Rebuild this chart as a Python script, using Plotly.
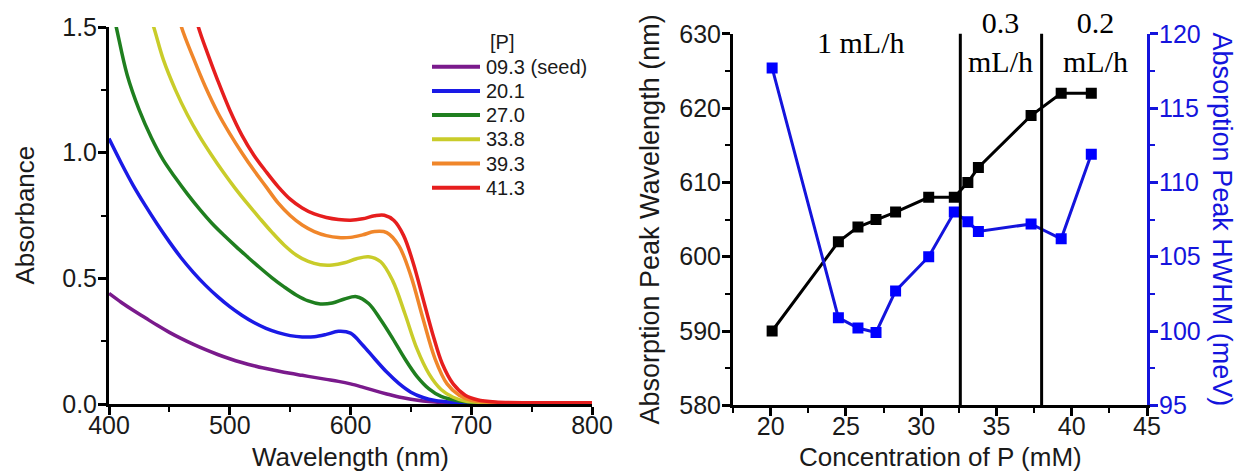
import plotly.graph_objects as go

W, H = 1238, 474

# ---------------- absorption spectra (left panel) ----------------
series_names = ["09.3 (seed)", "20.1", "27.0", "33.8", "39.3", "41.3"]
series_colors = ["#7a1a8c", "#1a1ae6", "#1f7f1f", "#c9cc2a", "#f0862a", "#e61e1e"]

wl_093 = [400, 410, 420, 430, 440, 450, 460, 470, 480, 490, 500, 510, 520, 530, 540, 550, 560,
          570, 580, 590, 600, 610, 620, 630, 640, 650, 660, 670, 685, 700, 730, 770, 800]
abs_093 = [0.44, 0.405, 0.373, 0.343, 0.313, 0.285, 0.26, 0.237, 0.216, 0.197, 0.18, 0.165,
           0.152, 0.141, 0.131, 0.122, 0.114, 0.106, 0.098, 0.09, 0.08, 0.067, 0.053, 0.04,
           0.028, 0.019, 0.012, 0.008, 0.005, 0.004, 0.003, 0.003, 0.003]

wl_201 = [400, 410, 420, 430, 440, 450, 460, 470, 480, 490, 500, 510, 520, 530, 540, 550, 560,
          570, 580, 590, 600, 610, 620, 630, 640, 650, 660, 670, 685, 700, 730, 770, 800]
abs_201 = [1.056, 0.96, 0.87, 0.79, 0.715, 0.645, 0.58, 0.523, 0.472, 0.427, 0.387, 0.353,
           0.324, 0.301, 0.284, 0.272, 0.267, 0.268, 0.277, 0.289, 0.282, 0.235, 0.18, 0.127,
           0.082, 0.047, 0.026, 0.014, 0.007, 0.004, 0.003, 0.003, 0.003]

wl_270 = [400, 406, 415, 425, 435, 445, 455, 465, 475, 485, 495, 505, 515, 525, 535, 545, 555,
          565, 575, 585, 595, 605, 615, 625, 635, 645, 655, 665, 675, 690, 710, 750, 800]
abs_270 = [1.63, 1.5, 1.31, 1.17, 1.06, 0.97, 0.9, 0.835, 0.775, 0.72, 0.672, 0.627, 0.584,
           0.542, 0.502, 0.466, 0.434, 0.41, 0.398, 0.402, 0.418, 0.427, 0.4, 0.335, 0.26,
           0.18, 0.11, 0.06, 0.03, 0.012, 0.005, 0.003, 0.003]

wl_338 = [430, 437, 445, 455, 465, 475, 485, 495, 505, 515, 525, 535, 545, 555, 565, 575, 585,
          595, 605, 615, 625, 635, 645, 655, 665, 675, 685, 695, 710, 740, 800]
abs_338 = [1.6, 1.5, 1.37, 1.25, 1.15, 1.065, 0.99, 0.92, 0.855, 0.795, 0.738, 0.683, 0.633,
           0.593, 0.567, 0.554, 0.553, 0.562, 0.578, 0.586, 0.566, 0.49, 0.36, 0.22, 0.12,
           0.058, 0.027, 0.012, 0.006, 0.004, 0.004]

wl_393 = [455, 460, 470, 480, 490, 500, 510, 520, 530, 540, 550, 560, 570, 580, 590, 600, 610,
          620, 630, 640, 650, 660, 670, 680, 690, 700, 715, 740, 800]
abs_393 = [1.6, 1.5, 1.375, 1.26, 1.16, 1.076, 1.0, 0.93, 0.865, 0.8, 0.75, 0.712, 0.686,
           0.67, 0.662, 0.663, 0.673, 0.686, 0.682, 0.63, 0.51, 0.34, 0.18, 0.08, 0.035, 0.015,
           0.007, 0.004, 0.004]

wl_413 = [470, 474, 482, 490, 500, 510, 520, 530, 540, 550, 560, 570, 580, 590, 600, 610, 620,
          628, 636, 644, 652, 660, 668, 676, 685, 695, 705, 720, 750, 800]
abs_413 = [1.58, 1.5, 1.39, 1.288, 1.17, 1.07, 0.99, 0.925, 0.865, 0.815, 0.78, 0.756, 0.742,
           0.734, 0.731, 0.737, 0.749, 0.751, 0.73, 0.67, 0.56, 0.42, 0.28, 0.16, 0.08, 0.035,
           0.017, 0.008, 0.005, 0.005]

spectra_wl = [wl_093, wl_201, wl_270, wl_338, wl_393, wl_413]
spectra_abs = [abs_093, abs_201, abs_270, abs_338, abs_393, abs_413]

# ---------------- peak position / width vs concentration (right panel) ----------------
conc_mM = [20.1, 24.5, 25.8, 27.0, 28.3, 30.5, 32.2, 33.1, 33.8, 37.3, 39.3, 41.3]
peak_wavelength_nm = [590, 602, 604, 605, 606, 608, 608, 610, 612, 619, 622, 622]
peak_hwhm_meV = [117.7, 100.9, 100.2, 99.9, 102.7, 105.0, 108.0, 107.35, 106.7, 107.2, 106.2, 111.9]

rate_boundaries = [32.6, 38.0]
rate_labels = ["1 mL/h", "0.3<br>mL/h", "0.2<br>mL/h"]
rate_label_x = [26.0, 35.3, 41.6]

# ---------------- styling ----------------
SANS = "Liberation Sans, Arial, sans-serif"
SERIF = "Liberation Serif, Times New Roman, serif"
INK = "#1a1a1a"
BLUE = "#1414dc"
TICK_SIZE = 25
TITLE_SIZE = 26

fig = go.Figure()

for wl, ab, col in zip(spectra_wl, spectra_abs, series_colors):
    fig.add_trace(go.Scatter(
        x=wl, y=ab, mode="lines", xaxis="x", yaxis="y",
        line=dict(color=col, width=3.5, shape="spline", smoothing=1.0),
        showlegend=False, hoverinfo="skip"))

fig.add_trace(go.Scatter(
    x=conc_mM, y=peak_wavelength_nm, mode="lines+markers", xaxis="x2", yaxis="y2",
    line=dict(color="black", width=3),
    marker=dict(symbol="square", size=11, color="black"),
    showlegend=False))

fig.add_trace(go.Scatter(
    x=conc_mM, y=peak_hwhm_meV, mode="lines+markers", xaxis="x2", yaxis="y3",
    line=dict(color=BLUE, width=3),
    marker=dict(symbol="square", size=11, color="#0000ff"),
    showlegend=False))


def axis_style(color="black", standoff=-4):
    return dict(
        showline=True, linewidth=3, linecolor=color, mirror=False, automargin=False,
        ticks="outside", ticklen=8, tickwidth=3, tickcolor=color,
        ticklabelstandoff=standoff,
        showgrid=False, zeroline=False,
        tickfont=dict(family=SANS, size=TICK_SIZE, color=INK if color == "black" else color),
    )


left_x = (109 / W, 592 / W)
left_y = (1 - 404 / H, 1 - 27 / H)
right_x = (733 / W, 1147 / W)
right_y = (1 - 405.3 / H, 1 - 33.8 / H)

fig.update_layout(
    template="none",
    width=W, height=H,
    margin=dict(l=0, r=0, t=0, b=0, pad=0),
    paper_bgcolor="white", plot_bgcolor="white",
    font=dict(family=SANS, color=INK),
    xaxis=dict(domain=left_x, anchor="y", range=[400, 800], dtick=100, tick0=400,
               minor=dict(dtick=50, ticks="outside", ticklen=5, tickwidth=2, tickcolor="black"),
               **axis_style(standoff=-11)),
    yaxis=dict(domain=left_y, anchor="x", range=[0, 1.5], dtick=0.5, tickformat=".1f",
               minor=dict(dtick=0.25, ticks="outside", ticklen=5, tickwidth=2, tickcolor="black"),
               **axis_style()),
    xaxis2=dict(domain=right_x, anchor="y2", range=[17.5, 45], dtick=5, tick0=20,
                minor=dict(dtick=2.5, ticks="outside", ticklen=5, tickwidth=2, tickcolor="black"),
                **axis_style(standoff=-11)),
    yaxis2=dict(domain=right_y, anchor="x2", range=[580, 630], dtick=10,
                minor=dict(dtick=5, ticks="outside", ticklen=5, tickwidth=2, tickcolor="black"),
                **axis_style()),
    yaxis3=dict(overlaying="y2", anchor="x2", side="right", range=[95, 120], dtick=5,
                minor=dict(dtick=2.5, ticks="outside", ticklen=5, tickwidth=2, tickcolor=BLUE),
                **axis_style(BLUE)),
)

# flow-rate regime dividers
for xb in rate_boundaries:
    fig.add_shape(type="line", xref="x2", yref="y2 domain", x0=xb, x1=xb, y0=0, y1=1,
                  line=dict(color="black", width=3))


def px_x(px):
    return px / W


def px_y(px):
    return 1 - px / H


annotations = []
for lab, lx in zip(rate_labels, rate_label_x):
    annotations.append(dict(
        text=lab, x=lx, xref="x2", y=px_y(42),
        yref="paper", xanchor="center", yanchor="middle", showarrow=False,
        font=dict(family=SERIF, size=30, color="black")))

# axis titles
title_font = dict(family=SANS, size=TITLE_SIZE, color=INK)
annotations += [
    dict(text="Absorbance", x=px_x(24), y=(left_y[0] + left_y[1]) / 2, textangle=-90,
         font=title_font),
    dict(text="Wavelength (nm)", x=(left_x[0] + left_x[1]) / 2, y=px_y(457), font=title_font),
    dict(text="Absorption Peak Wavelength (nm)", x=px_x(650), y=(right_y[0] + right_y[1]) / 2,
         textangle=-90, font=dict(family=SANS, size=27, color=INK)),
    dict(text="Concentration of P (mM)", x=(right_x[0] + right_x[1]) / 2, y=px_y(457),
         font=title_font),
    dict(text="Absorption Peak HWHM (meV)", x=px_x(1222), y=(right_y[0] + right_y[1]) / 2,
         textangle=90, font=dict(family=SANS, size=27, color=BLUE)),
]
for a in annotations[-5:]:
    a.update(xref="paper", yref="paper", xanchor="center", yanchor="middle", showarrow=False)

# key for the spectra
key_top, key_step = 66.7, 24.2
annotations.append(dict(text="[P]", x=px_x(502), y=px_y(41.7), xref="paper", yref="paper",
                        xanchor="center", yanchor="middle", showarrow=False,
                        font=dict(family=SANS, size=20, color=INK)))
for i, (name, col) in enumerate(zip(series_names, series_colors)):
    yk = px_y(key_top + i * key_step)
    fig.add_shape(type="line", xref="paper", yref="paper", x0=px_x(432), x1=px_x(480),
                  y0=yk, y1=yk, line=dict(color=col, width=4))
    annotations.append(dict(text=name, x=px_x(484), y=yk, xref="paper", yref="paper",
                            xanchor="left", yanchor="middle", showarrow=False,
                            font=dict(family=SANS, size=20, color=INK)))

fig.update_layout(annotations=annotations)

fig.write_html("out.html")
